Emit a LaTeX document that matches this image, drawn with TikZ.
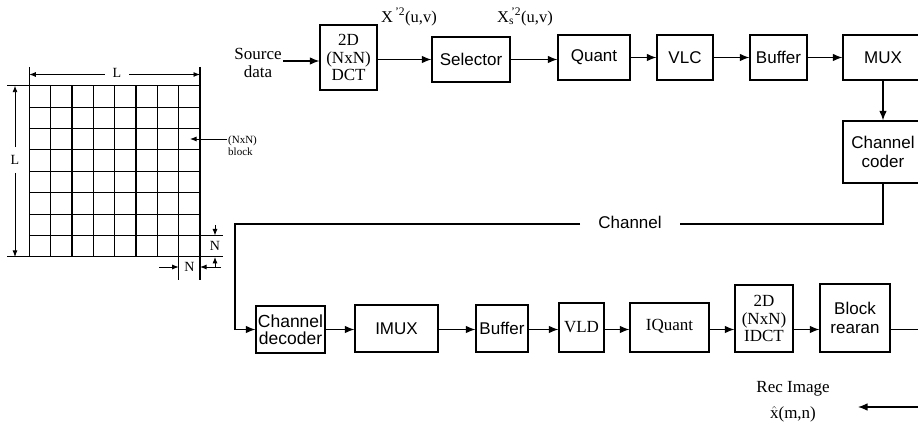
\documentclass[tikz,border=0pt]{standalone}
\usepackage{fontspec}
\setmainfont{Liberation Serif}
\setsansfont{Liberation Sans}
\usetikzlibrary{arrows.meta}
\begin{document}
\begin{tikzpicture}[x=1pt,y=-1pt,
  blk/.style={draw, line width=1.2pt, inner sep=0pt, align=center},
  sanslbl/.style={font=\fontsize{17}{19}\selectfont\sffamily},
  seriflbl/.style={font=\fontsize{17}{17.5}\selectfont},
  smalllbl/.style={font=\fontsize{14}{14}\selectfont, inner sep=1pt},
  flow/.style={line width=1.2pt, -{Latex[length=9.5pt,width=7.5pt]}},
  dimarrow/.style={line width=0.9pt, -{Latex[length=6.5pt,width=5pt]}},
  gridline/.style={line width=1.1pt}]
\useasboundingbox (0,0) rectangle (918,430);
\fill[white] (0,0) rectangle (918,430);
\clip (0,0) rectangle (918,430);

% ---------- image partitioned into (NxN) blocks ----------
\def\gx{29.3}\def\gxr{200}\def\gy{85.7}\def\gyb{256.9}
\foreach \xx in {50.6,72,93.3,114.7,136,157.4}
  \draw[gridline] (\xx,\gy) -- (\xx,\gyb);
\foreach \yy in {107.1,128.5,149.9,171.3,192.7,214.1}
  \draw[gridline] (\gx,\yy) -- (\gxr,\yy);
% outer lines, extended as dimension guides
\draw[gridline] (7,\gy) -- (\gxr,\gy);
\draw[gridline] (7,\gyb) -- (223,\gyb);
\draw[gridline] (\gx,235.5) -- (223,235.5);
\draw[gridline] (\gx,67) -- (\gx,\gyb);
\draw[gridline] (\gxr,67) -- (\gxr,280);
\draw[gridline] (178.7,\gy) -- (178.7,280);

% dimension L (top)
\node[smalllbl, inner xsep=8pt] (Ltop) at (117,73) {L};
\coordinate (LtopA) at (\gx,74.5);
\coordinate (LtopB) at (\gxr,74.5);
\draw[dimarrow] (Ltop.west |- LtopA) -- (LtopA);
\draw[dimarrow] (Ltop.east |- LtopB) -- (LtopB);
% dimension L (left)
\node[smalllbl, inner ysep=8pt] (Lleft) at (15,160) {L};
\coordinate (LlA) at (15,\gy);
\coordinate (LlB) at (15,\gyb);
\draw[dimarrow] (Lleft.north) -- (LlA);
\draw[dimarrow] (Lleft.south) -- (LlB);
% dimension N (right)
\node[smalllbl] (Nr) at (215,246) {N};
\coordinate (NrA) at (215,225);
\coordinate (NrB) at (215,235.5);
\coordinate (NrC) at (215,268);
\coordinate (NrD) at (215,\gyb);
\draw[dimarrow] (NrA) -- (NrB);
\draw[dimarrow] (NrC) -- (NrD);
% dimension N (bottom)
\node[smalllbl] (Nb) at (189.5,267) {N};
\coordinate (NbA) at (159,267);
\coordinate (NbB) at (178.7,267);
\coordinate (NbC) at (221,267);
\coordinate (NbD) at (\gxr,267);
\draw[dimarrow] (NbA) -- (NbB);
\draw[dimarrow] (NbC) -- (NbD);
% block label
\node[font=\fontsize{11}{12}\selectfont, align=left, anchor=west, inner sep=1pt] (blab) at (227,146) {(NxN)\\block};
\coordinate (btip) at (190,139);
\draw[dimarrow] (blab.west |- btip) -- (btip);

% ---------- encoder chain ----------
\node[seriflbl, align=center] (src) at (258,63) {Source\\data};
\coordinate (srcend) at (283,61);
\node[blk, seriflbl, minimum width=57pt, minimum height=65pt] (dct) at (348.5,57.5) {2D\\(NxN)\\DCT};
\node[blk, sanslbl, minimum width=78pt, minimum height=45pt] (sel) at (471,59.5) {Selector};
\node[blk, sanslbl, minimum width=72pt, minimum height=45pt] (quant) at (594,57.5) {Quant};
\node[blk, sanslbl, minimum width=56pt, minimum height=45pt] (vlc) at (685,57.5) {VLC};
\node[blk, sanslbl, minimum width=57pt, minimum height=45pt] (buf) at (778.5,57.5) {Buffer};
\node[blk, sanslbl, minimum width=80pt, minimum height=45pt] (mux) at (883,57.5) {MUX};
\node[blk, sanslbl, minimum width=80pt, minimum height=62pt] (ccoder) at (883,152) {Channel\\coder};

\node[font=\fontsize{16.5}{17}\selectfont, inner sep=1pt] (xlab) at (409,17) {X\textsuperscript{\,'2}(u,v)};
\node[font=\fontsize{16.5}{17}\selectfont, inner sep=1pt] (xslab) at (525,17) {X\rlap{\textsubscript{s}}\textsuperscript{\,'2}(u,v)};

\draw[flow] (srcend) -- (dct.west |- srcend);
\draw[flow] (dct.east |- sel.west) -- (sel.west);
\draw[flow] (sel.east) -- (quant.west |- sel.east);
\draw[flow] (quant.east) -- (vlc.west);
\draw[flow] (vlc.east) -- (buf.west);
\draw[flow] (buf.east) -- (mux.west);
\draw[flow] (mux.south) -- (ccoder.north);

% ---------- decoder chain ----------
\node[blk, minimum width=69pt, minimum height=47pt, font=\fontsize{17.5}{17}\selectfont\sffamily] (cdec) at (290.5,329.5) {Channel\\decoder};
\node[blk, sanslbl, minimum width=83pt, minimum height=47pt] (imux) at (396.5,328.5) {IMUX};
\node[blk, sanslbl, minimum width=52pt, minimum height=47pt] (buf2) at (502,328.5) {Buffer};
\node[blk, seriflbl, minimum width=45pt, minimum height=49pt] (vld) at (581.5,327.5) {VLD};
\node[blk, seriflbl, minimum width=79pt, minimum height=49pt, text depth=6pt] (iquant) at (669.5,327.5) {IQuant};
\node[blk, seriflbl, minimum width=58pt, minimum height=67pt] (idct) at (764,318.5) {2D\\(NxN)\\IDCT};
\node[blk, sanslbl, minimum width=70pt, minimum height=68pt] (block) at (855,318) {Block\\rearan};

\coordinate (rowb) at (0,329.5);
\draw[flow] (cdec.east |- rowb) -- (imux.west |- rowb);
\draw[flow] (imux.east |- rowb) -- (buf2.west |- rowb);
\draw[flow] (buf2.east |- rowb) -- (vld.west |- rowb);
\draw[flow] (vld.east |- rowb) -- (iquant.west |- rowb);
\draw[flow] (iquant.east |- rowb) -- (idct.west |- rowb);
\draw[flow] (idct.east |- rowb) -- (block.west |- rowb);
\coordinate (outR) at (925,329.5);
\draw[line width=1.2pt] (block.east |- rowb) -- (outR);

% ---------- channel ----------
\node[sanslbl, inner xsep=18pt, inner ysep=2pt] (chan) at (630,222) {Channel};
\coordinate (chL) at (235,224);
\draw[line width=1.2pt] (ccoder.south) |- (chan.east |- chL);
\draw[flow] (chan.west |- chL) -- (chL) |- (cdec.west);

% ---------- reconstructed image ----------
\node[seriflbl, inner sep=1pt] (rec) at (793,389) {Rec Image};
\node[seriflbl, inner sep=1pt] (xhat) at (793,414) {$\hat{\mathrm{x}}$(m,n)};
\coordinate (inR) at (925,407);
\coordinate (recend) at (858,407);
\draw[flow] (inR) -- (recend);

\end{tikzpicture}
\end{document}
